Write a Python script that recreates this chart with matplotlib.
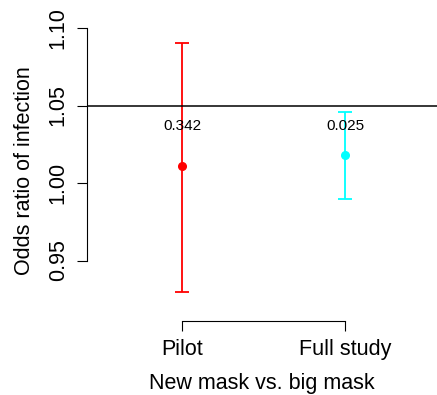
import matplotlib
matplotlib.use("Agg")
import matplotlib.pyplot as plt

# odds ratios with 95% intervals for each study
studies = ["Pilot", "Full study"]
odds_ratio = [1.011, 1.018]
ci_low = [0.930, 0.9897]
ci_high = [1.0906, 1.0455]
p_values = ["0.342", "0.025"]
colors = ["#FF0000", "#00FFFF"]
ref_level = 1.05
label_y = 1.037
yticks = [0.95, 1.00, 1.05, 1.10]

plt.rcParams["font.family"] = ["Liberation Sans", "DejaVu Sans"]

W, H = 437, 395
fig = plt.figure(figsize=(W / 100, H / 100), dpi=100)
# plot region in pixels: left 87, right 437, top 21, bottom 321
ax = fig.add_axes([87 / W, 1 - 321 / H, (437 - 87) / W, (321 - 21) / H])

xs = [1, 2]
for x, m, lo, hi, c, p in zip(xs, odds_ratio, ci_low, ci_high, colors, p_values):
    ax.errorbar(x, m, yerr=[[m - lo], [hi - m]], fmt="o", color=c, ecolor=c,
                elinewidth=1.3, capsize=5, capthick=1.3, markersize=5.5)
    ax.text(x, label_y, p, ha="center", va="center", fontsize=11)

ax.axhline(ref_level, color="black", linewidth=1.1)

ax.set_xlim(1 - 95 / 163, 2 + 92 / 163)
ax.set_ylim(1 - 138 / 1550, 1 + 162 / 1550)

ax.set_xticks(xs)
ax.set_xticklabels(studies, fontsize=15.5)
ax.set_yticks(yticks)
ax.set_yticklabels([f"{t:.2f}" for t in yticks], fontsize=15.5,
                   rotation=90, va="center")

for side in ("top", "right"):
    ax.spines[side].set_visible(False)
ax.spines["left"].set_bounds(yticks[0], yticks[-1])
ax.spines["bottom"].set_bounds(xs[0], xs[-1])
for side in ("left", "bottom"):
    ax.spines[side].set_linewidth(0.8)
ax.tick_params(axis="both", length=7.2, width=0.8, pad=6)

ax.set_xlabel("New mask vs. big mask", fontsize=15.5, labelpad=9)
ax.set_ylabel("Odds ratio of infection", fontsize=15.5, labelpad=9)

fig.savefig("out.png", dpi=100)
